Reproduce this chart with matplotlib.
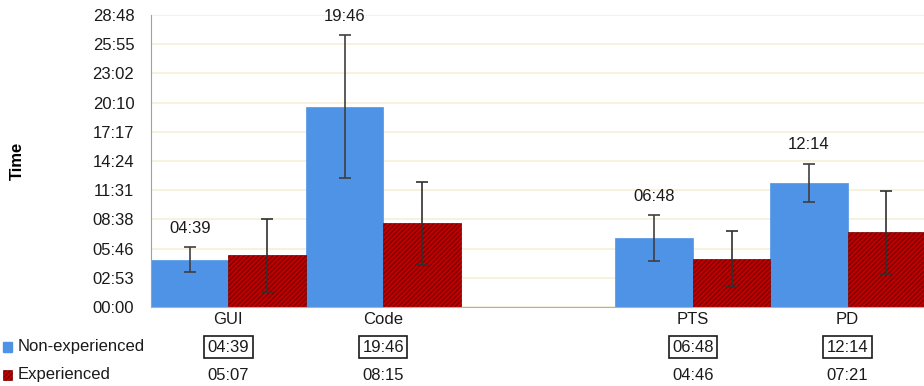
import matplotlib
matplotlib.use("Agg")
import matplotlib.pyplot as plt
import matplotlib.transforms as mtransforms
from matplotlib.ticker import FuncFormatter, MultipleLocator
import numpy as np

plt.rcParams['font.family'] = ['Liberation Sans', 'DejaVu Sans']
plt.rcParams['hatch.linewidth'] = 0.9
plt.rcParams['hatch.color'] = '#1a0000'

categories = ['GUI', 'Code', '', 'PTS', 'PD']
series_names = ['Non-experienced', 'Experienced']
# times in seconds (None = empty slot)
non_exp = [279, 1186, None, 408, 734]
non_exp_err = [74, 423, None, 137, 115]
exp = [307, 495, None, 286, 441]
exp_err = [216, 246, None, 165, 244]

blue = '#4f93e6'
red = '#c00000'
fs = 12


def fmt(s, pos=None):
    s = int(round(s))
    return '%02d:%02d' % (s // 60, s % 60)


fig = plt.figure(figsize=(9.24, 3.86), dpi=100)
ax = fig.add_axes([151 / 924, 1 - 307 / 386, 774 / 924, 292 / 386])

x = np.arange(len(categories))
w = 0.5
idx = [i for i, v in enumerate(non_exp) if v is not None]
xi = x[idx]
ne = np.array([non_exp[i] for i in idx])
nee = np.array([non_exp_err[i] for i in idx])
ex = np.array([exp[i] for i in idx])
exe = np.array([exp_err[i] for i in idx])

ax.bar(xi - w / 2, ne, w, color=blue, edgecolor=blue, linewidth=0.5, zorder=2)
ax.bar(xi + w / 2, ex, w, color=red, edgecolor='#7a0000', hatch='///////',
       linewidth=0.5, zorder=2)
ax.errorbar(xi - w / 2, ne, yerr=nee, fmt='none', ecolor='#404040',
            elinewidth=1.2, capsize=4, capthick=1.2, zorder=3)
ax.errorbar(xi + w / 2, ex, yerr=exe, fmt='none', ecolor='#303030',
            elinewidth=1.2, capsize=4, capthick=1.2, zorder=3)

for xx, v, e in zip(xi - w / 2, ne, nee):
    ax.annotate(fmt(v), (xx, v + e), xytext=(0, 8), textcoords='offset points',
                ha='center', va='bottom', fontsize=fs, color='#1a1a1a')

ax.set_xlim(-0.5, len(categories) - 0.5)
ax.set_ylim(0, 1728)
ax.yaxis.set_major_locator(MultipleLocator(172.8))
ax.yaxis.set_major_formatter(FuncFormatter(fmt))
ax.set_xticks([])
ax.tick_params(axis='y', length=0, labelsize=fs, pad=12, colors='#1a1a1a')
ax.grid(axis='y', color='#f6f0d8', linewidth=1.2, zorder=0)
ax.set_axisbelow(True)
for s in ['top', 'right']:
    ax.spines[s].set_visible(False)
ax.spines['left'].set_color('#a0a0a0')
ax.spines['bottom'].set_color('#b0b0b0')
ax.set_ylabel('Time', fontsize=fs, fontweight='bold')
ax.yaxis.set_label_coords((25 - 151) / 774, 0.5)

# data table below the axis
trans = mtransforms.blended_transform_factory(ax.transData, fig.transFigure)
for i, c in enumerate(categories):
    if not c:
        continue
    ax.text(i, 1 - 320 / 386, c, transform=trans, ha='center', va='center',
            fontsize=fs, color='#1a1a1a')
    ax.text(i, 1 - 347 / 386, fmt(non_exp[i]), transform=trans, ha='center',
            va='center', fontsize=fs, color='#1a1a1a',
            bbox=dict(boxstyle='square,pad=0.2', fc='white', ec='#1a1a1a', lw=1.2))
    ax.text(i, 1 - 375 / 386, fmt(exp[i]), transform=trans, ha='center',
            va='center', fontsize=fs, color='#1a1a1a')

# legend keys
fig.patches.append(plt.Rectangle((3 / 924, 1 - 352 / 386), 9 / 924, 10 / 386,
                                 transform=fig.transFigure, color=blue))
fig.patches.append(plt.Rectangle((3 / 924, 1 - 380 / 386), 9 / 924, 10 / 386,
                                 transform=fig.transFigure, facecolor=red,
                                 hatch='///////', edgecolor='#7a0000', lw=0.5))
fig.text(18 / 924, 1 - 347 / 386, series_names[0], ha='left', va='center',
         fontsize=fs, color='#1a1a1a')
fig.text(18 / 924, 1 - 375 / 386, series_names[1], ha='left', va='center',
         fontsize=fs, color='#1a1a1a')

fig.savefig('out.png', dpi=100)
